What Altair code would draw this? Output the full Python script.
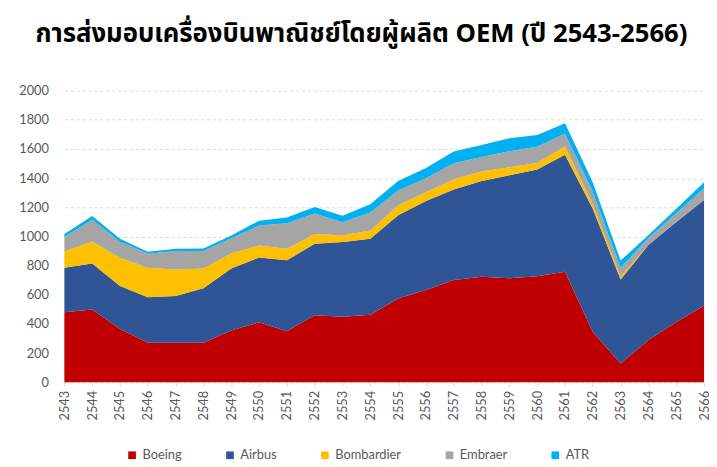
import altair as alt
import pandas as pd

years = [str(y) for y in range(2543, 2567)]
boeing = [480, 500, 365, 272, 272, 272, 355, 412, 351, 460, 449, 464,
          575, 634, 702, 724, 713, 727, 758, 346, 130, 290, 413, 525]
airbus = [305, 315, 295, 311, 320, 373, 426, 444, 486, 490, 513, 520,
          570, 610, 621, 656, 707, 732, 803, 844, 575, 652, 687, 725]
bombardier = [112, 150, 194, 203, 181, 136, 102, 83, 79, 68, 45, 57,
              70, 60, 70, 65, 55, 45, 57, 30, 20, 0, 0, 0]
embraer = [100, 150, 110, 95, 128, 120, 105, 136, 175, 140, 90, 124,
           100, 95, 110, 100, 110, 112, 88, 85, 60, 48, 60, 80]
atr = [20, 25, 20, 15, 15, 16, 19, 33, 40, 45, 45, 57,
       65, 71, 80, 83, 88, 80, 70, 65, 50, 20, 31, 42]

makers = ["Boeing", "Airbus", "Bombardier", "Embraer", "ATR"]
colors = ["#C00000", "#2F5597", "#FFC000", "#A5A5A5", "#00B0F0"]
series = [boeing, airbus, bombardier, embraer, atr]
y_ticks = list(range(0, 2001, 200))

rows = []
for k, (name, vals) in enumerate(zip(makers, series)):
    for yr, v in zip(years, vals):
        rows.append({"year": yr, "maker": name, "value": v, "idx": k})
df = pd.DataFrame(rows)

chart = alt.Chart(df).mark_area(interpolate="linear").encode(
    x=alt.X("year:O", sort=years,
            scale=alt.Scale(type="point", padding=0),
            axis=alt.Axis(title=None, labelAngle=270, labelFontSize=13,
                          labelColor="#595959", labelFont="Lato",
                          domain=False, ticks=True, tickColor="#D9D9D9",
                          tickSize=4, labelPadding=4, grid=False)),
    y=alt.Y("value:Q", stack="zero",
            scale=alt.Scale(domain=[0, 2000], nice=False),
            axis=alt.Axis(title=None, values=y_ticks, format="d",
                          labelFontSize=13,
                          labelColor="#595959", labelFont="Lato",
                          domain=False, ticks=False, labelPadding=16,
                          grid=True, gridColor="#D9D9D9", gridDash=[3, 3],
                          gridWidth=1)),
    color=alt.Color("maker:N", sort=makers,
                    scale=alt.Scale(domain=makers, range=colors),
                    legend=alt.Legend(title=None, orient="none",
                                      direction="horizontal",
                                      legendX=62, legendY=362,
                                      symbolType="square", symbolSize=60,
                                      labelFontSize=13, labelColor="#595959",
                                      labelFont="Lato", columnPadding=42,
                                      symbolStrokeWidth=0)),
    order=alt.Order("idx:Q", sort="ascending"),
).properties(
    width=647, height=295,
    autosize=alt.AutoSizeParams(type="none"),
    padding={"left": 57, "top": 81, "right": 5, "bottom": 82},
    title=alt.Title("การส่งมอบเครื่องบินพาณิชย์โดยผู้ผลิต OEM (ปี 2543-2566)",
                    font="Noto Sans Thai, Noto Sans, sans-serif",
                    fontSize=26, fontWeight="bold", color="#000000",
                    anchor="middle", dx=-23, offset=38),
).configure_view(stroke=None)

chart.save("out.html", embed_options={"renderer": "svg", "actions": False})
